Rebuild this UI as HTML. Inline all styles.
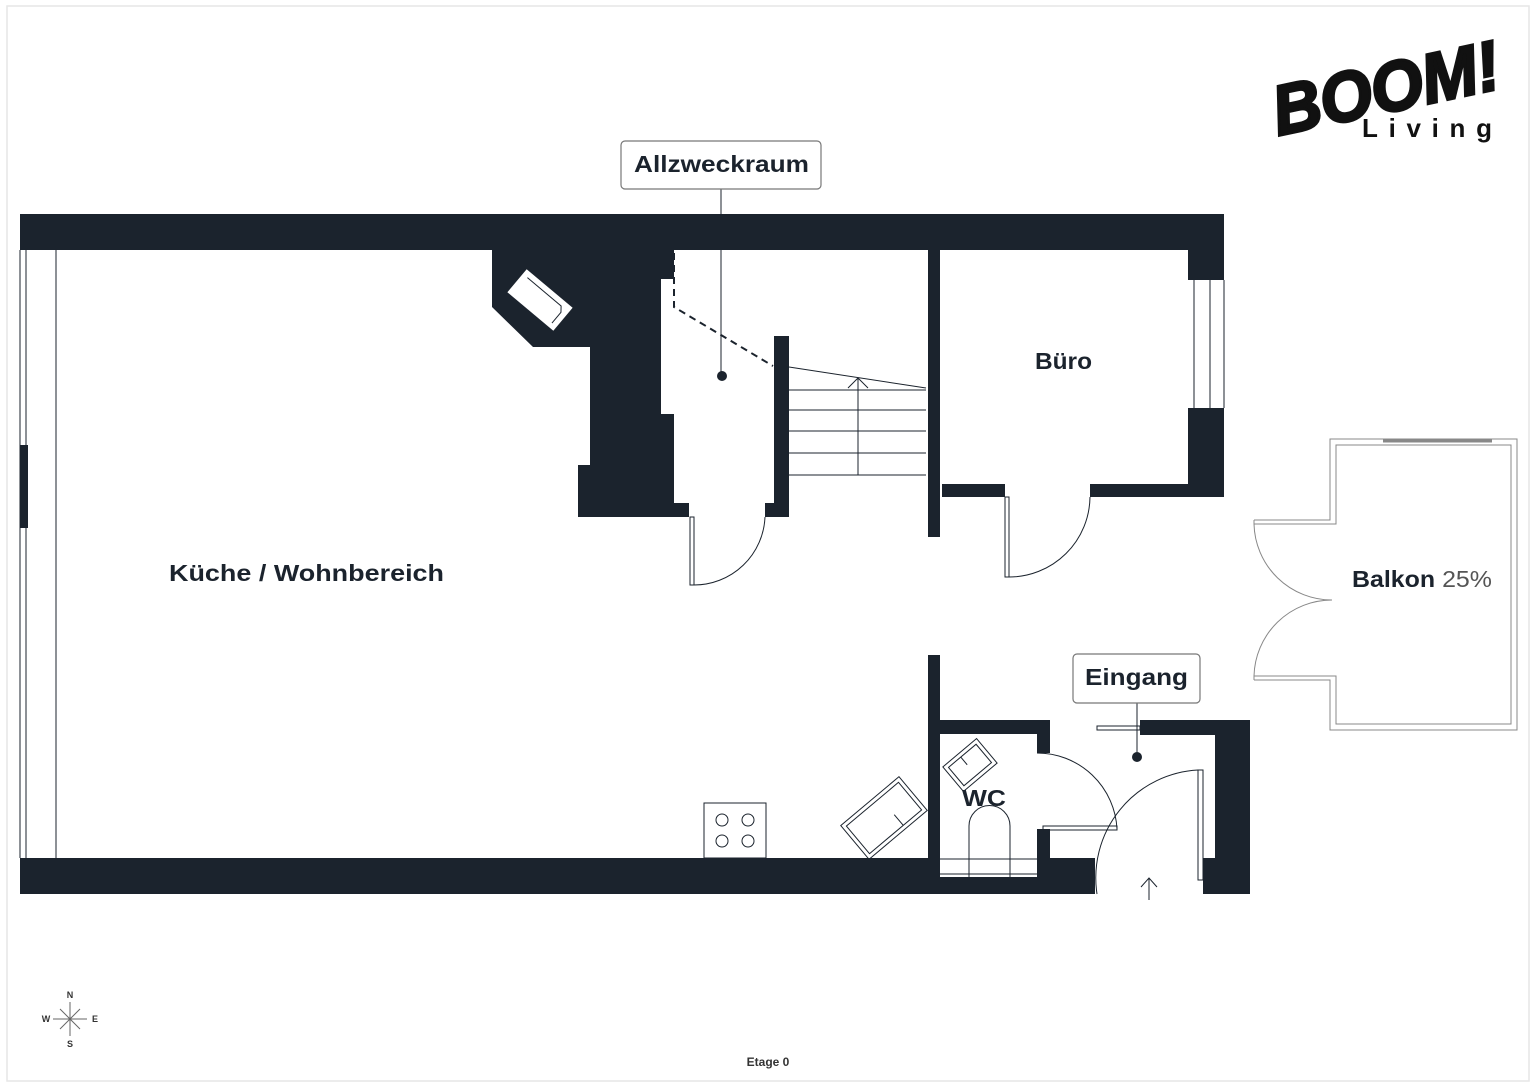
<!DOCTYPE html>
<html><head><meta charset="utf-8"><style>
html,body{margin:0;padding:0;background:#fff;}
svg{display:block;}
text{font-family:"Liberation Sans",sans-serif;}
</style></head><body>
<svg width="1536" height="1087" viewBox="0 0 1536 1087" xmlns="http://www.w3.org/2000/svg">
<rect x="7" y="6" width="1522" height="1075" fill="none" stroke="#e6e6e6" stroke-width="1.5"/>
<g fill="#1b232d">
<rect x="20" y="214" width="1204" height="36"/>
<rect x="20" y="445" width="8" height="83"/>
<rect x="20" y="858" width="1075" height="36"/>
<polygon points="492,250 492,307 533,347 590,347 590,465 578,465 578,517 689,517 689,503 674,503 674,414 661,414 661,279 674,279 674,250"/>
<rect x="774" y="336" width="15" height="181"/>
<rect x="765" y="503" width="24" height="14"/>
<rect x="928" y="250" width="12" height="287"/>
<rect x="1188" y="250" width="36" height="30"/>
<rect x="1188" y="408" width="36" height="89"/>
<rect x="942" y="484" width="63" height="13"/>
<rect x="1090" y="484" width="134" height="13"/>
<rect x="928" y="655" width="12" height="239"/>
<rect x="940" y="720" width="110" height="14"/>
<rect x="1037" y="720" width="13" height="33"/>
<rect x="1037" y="829" width="13" height="40"/>
<rect x="1037" y="858" width="58" height="36"/>
<rect x="940" y="877" width="100" height="17"/>
<rect x="1140" y="720" width="110" height="15"/>
<rect x="1215" y="720" width="35" height="174"/>
<rect x="1203" y="858" width="47" height="36"/>
</g>
<rect x="940" y="858" width="97" height="19" fill="#fff"/>
<g fill="none" stroke="#1b232d" stroke-width="1">
<line x1="20" y1="250" x2="20" y2="858"/>
<line x1="26" y1="250" x2="26" y2="858"/>
<line x1="56" y1="250" x2="56" y2="858"/>
<line x1="1194" y1="280" x2="1194" y2="408"/>
<line x1="1210" y1="280" x2="1210" y2="408"/>
<line x1="1224" y1="280" x2="1224" y2="408"/>
<line x1="789" y1="367" x2="926" y2="388"/>
<line x1="789" y1="390" x2="926" y2="390"/>
<line x1="789" y1="410" x2="926" y2="410"/>
<line x1="789" y1="431" x2="926" y2="431"/>
<line x1="789" y1="453" x2="926" y2="453"/>
<line x1="789" y1="475" x2="926" y2="475"/>
<line x1="858" y1="475" x2="858" y2="378"/>
<polyline points="848,388 858,378 868,388"/>
<polyline points="674,253 674,307 773,366" stroke-dasharray="7,5" stroke-width="2"/>
<rect x="690" y="517" width="4" height="68"/>
<path d="M694,585 A71,71 0 0 0 765,517"/>
<rect x="1005" y="497" width="4" height="80"/>
<path d="M1009,577 A81,81 0 0 0 1090,497"/>
<rect x="1043" y="826" width="74" height="4"/>
<path d="M1037,753 A80,80 0 0 1 1117,829"/>
<rect x="1198" y="770" width="5" height="110"/>
<path d="M1198,770 A108,108 0 0 0 1097,894"/>
<rect x="1097" y="726" width="43" height="4"/>
<line x1="940" y1="859" x2="1037" y2="859"/>
<line x1="940" y1="874" x2="1037" y2="874"/>
<path d="M969,877 L969,826 A20,20 0 0 1 1010,826 L1010,877"/>
<g transform="translate(970,765) rotate(-40)"><rect x="-22" y="-16" width="44" height="32"/><rect x="-18" y="-12" width="36" height="24"/><line x1="-2" y1="-12" x2="-2" y2="-2"/></g>
<g transform="translate(884,818) rotate(-40)"><rect x="-38" y="-22" width="76" height="44"/><rect x="-34" y="-18" width="68" height="36"/><line x1="10" y1="18" x2="10" y2="4"/></g>
<rect x="704" y="803" width="62" height="55"/>
<circle cx="722" cy="820" r="6"/><circle cx="748" cy="820" r="6"/>
<circle cx="722" cy="841" r="6"/><circle cx="748" cy="841" r="6"/>
<line x1="1149" y1="900" x2="1149" y2="878"/>
<polyline points="1141,887 1149,878 1157,887"/>
<g stroke="#888">
<polyline points="1254,520 1330,520 1330,439 1517,439 1517,730 1330,730 1330,680 1254,680"/>
<polyline points="1254,524 1336,524 1336,445 1511,445 1511,724 1336,724 1336,676 1254,676"/>
<line x1="1383" y1="441" x2="1492" y2="441" stroke-width="3"/>
<path d="M1254,524 A78,78 0 0 0 1332,600"/>
<path d="M1254,676 A78,78 0 0 1 1332,600"/>
<line x1="1254" y1="520" x2="1254" y2="524"/>
<line x1="1254" y1="676" x2="1254" y2="680"/>
</g>
</g>
<g transform="translate(540,300) rotate(40)"><rect x="-30" y="-15" width="60" height="30" fill="#fff"/><path d="M-24,-9 L20,-9 L24,-4 L24,10" fill="none" stroke="#1b232d" stroke-width="1"/></g>
<g fill="#1b232d" stroke="#1b232d">
<line x1="721" y1="189" x2="721" y2="376" stroke-width="1"/>
<circle cx="722" cy="376" r="5" stroke="none"/>
<line x1="1137" y1="703" x2="1137" y2="757" stroke-width="1"/>
<circle cx="1137" cy="757" r="5" stroke="none"/>
</g>
<rect x="621" y="141" width="200" height="48" rx="4" fill="#fff" stroke="#777" stroke-width="1.2"/>
<text x="634" y="172" font-size="23" font-weight="bold" fill="#1b232d" textLength="175" lengthAdjust="spacingAndGlyphs">Allzweckraum</text>
<rect x="1073" y="654" width="127" height="49" rx="4" fill="#fff" stroke="#777" stroke-width="1.2"/>
<text x="1085" y="685" font-size="23" font-weight="bold" fill="#1b232d" textLength="103" lengthAdjust="spacingAndGlyphs">Eingang</text>
<text x="169" y="581" font-size="23" font-weight="bold" fill="#1b232d" textLength="275" lengthAdjust="spacingAndGlyphs">Küche / Wohnbereich</text>
<text x="1035" y="369" font-size="23" font-weight="bold" fill="#1b232d" textLength="57" lengthAdjust="spacingAndGlyphs">Büro</text>
<text x="962" y="806" font-size="23" font-weight="bold" fill="#1b232d" textLength="44" lengthAdjust="spacingAndGlyphs">WC</text>
<text x="1352" y="587" font-size="23" fill="#1b232d" textLength="140" lengthAdjust="spacingAndGlyphs"><tspan font-weight="bold">Balkon</tspan><tspan fill="#555"> 25%</tspan></text>
<text x="1268" y="112" font-size="70" font-weight="bold" font-style="italic" fill="#111" stroke="#111" stroke-width="3" transform="rotate(-12 1385 75)" textLength="230" lengthAdjust="spacingAndGlyphs">BOOM!</text>
<text x="1362" y="137" font-size="26" font-weight="bold" fill="#111" textLength="130" lengthAdjust="spacing">Living</text>
<g stroke="#666" stroke-width="1">
<line x1="70" y1="1002" x2="70" y2="1036"/><line x1="53" y1="1019" x2="87" y2="1019"/>
<line x1="60" y1="1009" x2="80" y2="1029"/><line x1="80" y1="1009" x2="60" y2="1029"/>
</g>
<g font-size="9" font-weight="bold" fill="#333" text-anchor="middle">
<text x="70" y="998">N</text><text x="70" y="1047">S</text><text x="46" y="1022">W</text><text x="95" y="1022">E</text>
</g>
<text x="768" y="1066" font-size="12" font-weight="bold" text-anchor="middle" fill="#333">Etage 0</text>
</svg>
</body></html>
